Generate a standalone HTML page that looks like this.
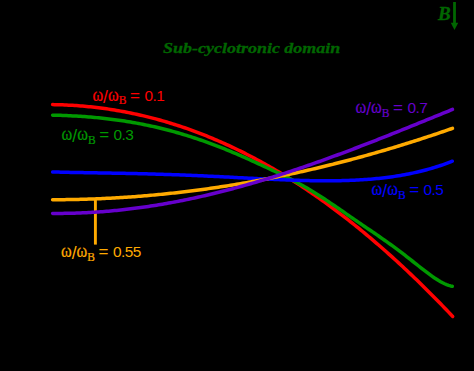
<!DOCTYPE html>
<html><head><meta charset="utf-8"><title>Sub-cyclotronic domain</title>
<style>
html,body{margin:0;padding:0;background:#000;}
body{width:474px;height:371px;position:relative;overflow:hidden;font-family:"Liberation Sans",sans-serif;}
svg{position:absolute;left:0;top:0;}
svg path{fill:none;stroke-width:3.5;stroke-linecap:round;stroke-linejoin:round;}
.lab{position:absolute;white-space:nowrap;font-size:15.4px;line-height:20px;height:20px;}
.lab span{display:inline-block;vertical-align:baseline;}
.lab .w,.lab .sub{-webkit-text-stroke:0.2px currentColor;}
.lab .w{font-family:"Liberation Serif",serif;font-size:16.3px;transform-origin:50% 15.5px;transform:scaleY(1.13);}
.lab .sl{font-size:17.5px;position:relative;top:2px;}
.lab .sub{font-family:"Liberation Serif",serif;font-size:11.5px;position:relative;top:3.8px;}
.lab .eq{font-size:17px;margin-left:3.6px;margin-right:4.5px;position:relative;top:0px;}
.lab .num{font-size:15.4px;letter-spacing:-0.55px;}
.title{-webkit-text-stroke:0.3px currentColor;position:absolute;left:163px;top:37.9px;color:#006600;font-family:"Liberation Serif",serif;font-weight:bold;font-style:italic;font-size:15.5px;line-height:20px;letter-spacing:0px;white-space:nowrap;transform-origin:0 0;transform:scaleX(1.16);}
.B{-webkit-text-stroke:0.3px currentColor;position:absolute;left:438px;top:3.9px;color:#006600;font-family:"Liberation Serif",serif;font-weight:bold;font-style:italic;font-size:19px;line-height:20px;}
</style></head><body>
<svg width="474" height="371" viewBox="0 0 474 371">
<path d="M95.4,199.5 L95.4,244.6" stroke="#ffaa00" style="stroke-width:2.9;stroke-linecap:butt"/>
<path d="M52.6,104.59 L54.6,104.63 L56.6,104.67 L58.6,104.72 L60.6,104.78 L62.6,104.86 L64.6,104.94 L66.6,105.03 L68.6,105.13 L70.6,105.23 L72.6,105.35 L74.6,105.48 L76.6,105.62 L78.6,105.76 L80.6,105.92 L82.6,106.09 L84.6,106.26 L86.6,106.45 L88.6,106.64 L90.6,106.85 L92.6,107.06 L94.6,107.29 L96.6,107.52 L98.6,107.76 L100.6,108.02 L102.6,108.28 L104.6,108.56 L106.6,108.84 L108.6,109.13 L110.6,109.43 L112.6,109.75 L114.6,110.07 L116.6,110.40 L118.6,110.74 L120.6,111.10 L122.6,111.46 L124.6,111.83 L126.6,112.22 L128.6,112.61 L130.6,113.01 L132.6,113.43 L134.6,113.85 L136.6,114.28 L138.6,114.73 L140.6,115.18 L142.6,115.64 L144.6,116.12 L146.6,116.60 L148.6,117.10 L150.6,117.60 L152.6,118.12 L154.6,118.64 L156.6,119.18 L158.6,119.72 L160.6,120.28 L162.6,120.85 L164.6,121.43 L166.6,122.01 L168.6,122.61 L170.6,123.22 L172.6,123.84 L174.6,124.47 L176.6,125.11 L178.6,125.76 L180.6,126.42 L182.6,127.09 L184.6,127.77 L186.6,128.47 L188.6,129.17 L190.6,129.88 L192.6,130.61 L194.6,131.34 L196.6,132.09 L198.6,132.84 L200.6,133.61 L202.6,134.39 L204.6,135.17 L206.6,135.97 L208.6,136.78 L210.6,137.60 L212.6,138.43 L214.6,139.27 L216.6,140.12 L218.6,140.99 L220.6,141.86 L222.6,142.74 L224.6,143.64 L226.6,144.54 L228.6,145.46 L230.6,146.39 L232.6,147.32 L234.6,148.27 L236.6,149.23 L238.6,150.20 L240.6,151.18 L242.6,152.17 L244.6,153.18 L246.6,154.19 L248.6,155.21 L250.6,156.25 L252.6,157.29 L254.6,158.35 L256.6,159.42 L258.6,160.49 L260.6,161.58 L262.6,162.68 L264.6,163.79 L266.6,164.92 L268.6,166.05 L270.6,167.19 L272.6,168.34 L274.6,169.51 L276.6,170.68 L278.6,171.87 L280.6,173.07 L282.6,174.28 L284.6,175.50 L286.6,176.72 L288.6,177.97 L290.6,179.22 L292.6,180.48 L294.6,181.75 L296.6,183.04 L298.6,184.33 L300.6,185.64 L302.6,186.96 L304.6,188.28 L306.6,189.62 L308.6,190.97 L310.6,192.33 L312.6,193.70 L314.6,195.08 L316.6,196.48 L318.6,197.88 L320.6,199.30 L322.6,200.72 L324.6,202.16 L326.6,203.60 L328.6,205.06 L330.6,206.53 L332.6,208.01 L334.6,209.50 L336.6,211.00 L338.6,212.52 L340.6,214.04 L342.6,215.57 L344.6,217.12 L346.6,218.67 L348.6,220.24 L350.6,221.82 L352.6,223.40 L354.6,225.00 L356.6,226.61 L358.6,228.23 L360.6,229.86 L362.6,231.50 L364.6,233.16 L366.6,234.82 L368.6,236.49 L370.6,238.18 L372.6,239.87 L374.6,241.58 L376.6,243.30 L378.6,245.02 L380.6,246.76 L382.6,248.51 L384.6,250.27 L386.6,252.04 L388.6,253.82 L390.6,255.61 L392.6,257.41 L394.6,259.23 L396.6,261.05 L398.6,262.88 L400.6,264.73 L402.6,266.58 L404.6,268.45 L406.6,270.32 L408.6,272.21 L410.6,274.11 L412.6,276.02 L414.6,277.93 L416.6,279.86 L418.6,281.80 L420.6,283.75 L422.6,285.71 L424.6,287.68 L426.6,289.66 L428.6,291.65 L430.6,293.66 L432.6,295.67 L434.6,297.69 L436.6,299.72 L438.6,301.77 L440.6,303.82 L442.6,305.88 L444.6,307.96 L446.6,310.04 L448.6,312.14 L450.6,314.24 L452.6,316.36 L452.7,316.46" stroke="#ff0000"/>
<path d="M52.6,115.14 L54.6,115.19 L56.6,115.24 L58.6,115.30 L60.6,115.37 L62.6,115.44 L64.6,115.52 L66.6,115.60 L68.6,115.68 L70.6,115.78 L72.6,115.88 L74.6,115.99 L76.6,116.10 L78.6,116.22 L80.6,116.34 L82.6,116.48 L84.6,116.62 L86.6,116.77 L88.6,116.92 L90.6,117.08 L92.6,117.25 L94.6,117.43 L96.6,117.62 L98.6,117.81 L100.6,118.01 L102.6,118.22 L104.6,118.44 L106.6,118.67 L108.6,118.90 L110.6,119.15 L112.6,119.40 L114.6,119.66 L116.6,119.93 L118.6,120.21 L120.6,120.49 L122.6,120.79 L124.6,121.10 L126.6,121.41 L128.6,121.74 L130.6,122.07 L132.6,122.41 L134.6,122.77 L136.6,123.13 L138.6,123.50 L140.6,123.88 L142.6,124.28 L144.6,124.68 L146.6,125.09 L148.6,125.51 L150.6,125.94 L152.6,126.38 L154.6,126.83 L156.6,127.29 L158.6,127.76 L160.6,128.25 L162.6,128.74 L164.6,129.24 L166.6,129.75 L168.6,130.27 L170.6,130.80 L172.6,131.35 L174.6,131.90 L176.6,132.46 L178.6,133.03 L180.6,133.62 L182.6,134.21 L184.6,134.81 L186.6,135.43 L188.6,136.05 L190.6,136.68 L192.6,137.33 L194.6,137.98 L196.6,138.64 L198.6,139.32 L200.6,140.00 L202.6,140.70 L204.6,141.40 L206.6,142.11 L208.6,142.84 L210.6,143.57 L212.6,144.31 L214.6,145.07 L216.6,145.83 L218.6,146.60 L220.6,147.38 L222.6,148.17 L224.6,148.97 L226.6,149.78 L228.6,150.60 L230.6,151.43 L232.6,152.26 L234.6,153.11 L236.6,153.96 L238.6,154.83 L240.6,155.70 L242.6,156.57 L244.6,157.46 L246.6,158.35 L248.6,159.25 L250.6,160.15 L252.6,161.06 L254.6,161.98 L256.6,162.89 L258.6,163.81 L260.6,164.74 L262.6,165.67 L264.6,166.60 L266.6,167.53 L268.6,168.47 L270.6,169.40 L272.6,170.35 L274.6,171.29 L276.6,172.24 L278.6,173.20 L280.6,174.16 L282.6,175.13 L284.6,176.11 L286.6,177.11 L288.6,178.11 L290.6,179.12 L292.6,180.16 L294.6,181.20 L296.6,182.26 L298.6,183.34 L300.6,184.44 L302.6,185.56 L304.6,186.70 L306.6,187.85 L308.6,189.02 L310.6,190.22 L312.6,191.43 L314.6,192.66 L316.6,193.91 L318.6,195.17 L320.6,196.46 L322.6,197.75 L324.6,199.07 L326.6,200.39 L328.6,201.73 L330.6,203.08 L332.6,204.44 L334.6,205.80 L336.6,207.17 L338.6,208.55 L340.6,209.92 L342.6,211.30 L344.6,212.68 L346.6,214.07 L348.6,215.45 L350.6,216.83 L352.6,218.21 L354.6,219.59 L356.6,220.96 L358.6,222.34 L360.6,223.71 L362.6,225.08 L364.6,226.45 L366.6,227.82 L368.6,229.18 L370.6,230.55 L372.6,231.92 L374.6,233.29 L376.6,234.67 L378.6,236.05 L380.6,237.44 L382.6,238.83 L384.6,240.23 L386.6,241.64 L388.6,243.07 L390.6,244.50 L392.6,245.95 L394.6,247.42 L396.6,248.90 L398.6,250.40 L400.6,251.92 L402.6,253.44 L404.6,254.99 L406.6,256.54 L408.6,258.10 L410.6,259.68 L412.6,261.25 L414.6,262.84 L416.6,264.42 L418.6,266.00 L420.6,267.57 L422.6,269.13 L424.6,270.68 L426.6,272.21 L428.6,273.70 L430.6,275.17 L432.6,276.59 L434.6,277.97 L436.6,279.28 L438.6,280.53 L440.6,281.69 L442.6,282.77 L444.6,283.74 L446.6,284.60 L448.6,285.33 L450.6,285.92 L452.3,286.29" stroke="#009900"/>
<path d="M52.6,171.94 L54.6,172.00 L56.6,172.06 L58.6,172.11 L60.6,172.16 L62.6,172.21 L64.6,172.26 L66.6,172.30 L68.6,172.35 L70.6,172.39 L72.6,172.43 L74.6,172.47 L76.6,172.51 L78.6,172.55 L80.6,172.58 L82.6,172.62 L84.6,172.66 L86.6,172.69 L88.6,172.73 L90.6,172.76 L92.6,172.79 L94.6,172.83 L96.6,172.86 L98.6,172.89 L100.6,172.93 L102.6,172.96 L104.6,173.00 L106.6,173.03 L108.6,173.06 L110.6,173.10 L112.6,173.13 L114.6,173.17 L116.6,173.21 L118.6,173.24 L120.6,173.28 L122.6,173.32 L124.6,173.36 L126.6,173.40 L128.6,173.44 L130.6,173.48 L132.6,173.53 L134.6,173.57 L136.6,173.62 L138.6,173.66 L140.6,173.71 L142.6,173.76 L144.6,173.81 L146.6,173.86 L148.6,173.91 L150.6,173.97 L152.6,174.02 L154.6,174.08 L156.6,174.14 L158.6,174.20 L160.6,174.26 L162.6,174.32 L164.6,174.39 L166.6,174.45 L168.6,174.52 L170.6,174.59 L172.6,174.66 L174.6,174.73 L176.6,174.80 L178.6,174.87 L180.6,174.95 L182.6,175.03 L184.6,175.10 L186.6,175.18 L188.6,175.26 L190.6,175.35 L192.6,175.43 L194.6,175.51 L196.6,175.60 L198.6,175.69 L200.6,175.78 L202.6,175.87 L204.6,175.96 L206.6,176.05 L208.6,176.14 L210.6,176.24 L212.6,176.33 L214.6,176.43 L216.6,176.52 L218.6,176.62 L220.6,176.72 L222.6,176.82 L224.6,176.92 L226.6,177.02 L228.6,177.12 L230.6,177.22 L232.6,177.32 L234.6,177.43 L236.6,177.53 L238.6,177.63 L240.6,177.74 L242.6,177.84 L244.6,177.94 L246.6,178.04 L248.6,178.15 L250.6,178.25 L252.6,178.35 L254.6,178.45 L256.6,178.55 L258.6,178.65 L260.6,178.75 L262.6,178.85 L264.6,178.95 L266.6,179.04 L268.6,179.14 L270.6,179.23 L272.6,179.32 L274.6,179.41 L276.6,179.50 L278.6,179.59 L280.6,179.68 L282.6,179.76 L284.6,179.84 L286.6,179.92 L288.6,180.00 L290.6,180.07 L292.6,180.14 L294.6,180.21 L296.6,180.28 L298.6,180.34 L300.6,180.40 L302.6,180.45 L304.6,180.51 L306.6,180.55 L308.6,180.60 L310.6,180.64 L312.6,180.68 L314.6,180.71 L316.6,180.74 L318.6,180.76 L320.6,180.78 L322.6,180.79 L324.6,180.80 L326.6,180.80 L328.6,180.80 L330.6,180.79 L332.6,180.78 L334.6,180.76 L336.6,180.73 L338.6,180.70 L340.6,180.66 L342.6,180.62 L344.6,180.56 L346.6,180.50 L348.6,180.44 L350.6,180.36 L352.6,180.28 L354.6,180.19 L356.6,180.09 L358.6,179.98 L360.6,179.87 L362.6,179.74 L364.6,179.61 L366.6,179.46 L368.6,179.31 L370.6,179.15 L372.6,178.98 L374.6,178.80 L376.6,178.60 L378.6,178.40 L380.6,178.19 L382.6,177.96 L384.6,177.72 L386.6,177.48 L388.6,177.22 L390.6,176.95 L392.6,176.66 L394.6,176.36 L396.6,176.06 L398.6,175.73 L400.6,175.40 L402.6,175.05 L404.6,174.68 L406.6,174.31 L408.6,173.92 L410.6,173.51 L412.6,173.09 L414.6,172.65 L416.6,172.20 L418.6,171.73 L420.6,171.25 L422.6,170.75 L424.6,170.23 L426.6,169.70 L428.6,169.15 L430.6,168.58 L432.6,168.00 L434.6,167.40 L436.6,166.77 L438.6,166.13 L440.6,165.47 L442.6,164.80 L444.6,164.10 L446.6,163.38 L448.6,162.64 L450.6,161.88 L452.3,161.22" stroke="#0000ff"/>
<path d="M52.6,199.68 L54.6,199.68 L56.6,199.68 L58.6,199.67 L60.6,199.66 L62.6,199.64 L64.6,199.63 L66.6,199.60 L68.6,199.58 L70.6,199.55 L72.6,199.51 L74.6,199.47 L76.6,199.43 L78.6,199.39 L80.6,199.34 L82.6,199.29 L84.6,199.23 L86.6,199.17 L88.6,199.11 L90.6,199.04 L92.6,198.97 L94.6,198.89 L96.6,198.82 L98.6,198.73 L100.6,198.65 L102.6,198.56 L104.6,198.47 L106.6,198.37 L108.6,198.27 L110.6,198.16 L112.6,198.06 L114.6,197.95 L116.6,197.83 L118.6,197.71 L120.6,197.59 L122.6,197.46 L124.6,197.33 L126.6,197.20 L128.6,197.06 L130.6,196.92 L132.6,196.78 L134.6,196.63 L136.6,196.48 L138.6,196.32 L140.6,196.16 L142.6,196.00 L144.6,195.84 L146.6,195.67 L148.6,195.49 L150.6,195.32 L152.6,195.13 L154.6,194.95 L156.6,194.76 L158.6,194.57 L160.6,194.38 L162.6,194.18 L164.6,193.98 L166.6,193.77 L168.6,193.56 L170.6,193.35 L172.6,193.13 L174.6,192.91 L176.6,192.69 L178.6,192.46 L180.6,192.23 L182.6,191.99 L184.6,191.75 L186.6,191.51 L188.6,191.27 L190.6,191.02 L192.6,190.77 L194.6,190.51 L196.6,190.25 L198.6,189.99 L200.6,189.72 L202.6,189.45 L204.6,189.17 L206.6,188.90 L208.6,188.62 L210.6,188.33 L212.6,188.04 L214.6,187.75 L216.6,187.46 L218.6,187.16 L220.6,186.85 L222.6,186.55 L224.6,186.24 L226.6,185.93 L228.6,185.61 L230.6,185.29 L232.6,184.97 L234.6,184.64 L236.6,184.31 L238.6,183.97 L240.6,183.64 L242.6,183.29 L244.6,182.95 L246.6,182.60 L248.6,182.25 L250.6,181.89 L252.6,181.53 L254.6,181.17 L256.6,180.81 L258.6,180.44 L260.6,180.06 L262.6,179.69 L264.6,179.31 L266.6,178.92 L268.6,178.54 L270.6,178.15 L272.6,177.75 L274.6,177.36 L276.6,176.95 L278.6,176.55 L280.6,176.14 L282.6,175.73 L284.6,175.32 L286.6,174.90 L288.6,174.48 L290.6,174.05 L292.6,173.62 L294.6,173.19 L296.6,172.75 L298.6,172.32 L300.6,171.87 L302.6,171.43 L304.6,170.98 L306.6,170.53 L308.6,170.07 L310.6,169.61 L312.6,169.15 L314.6,168.68 L316.6,168.21 L318.6,167.74 L320.6,167.26 L322.6,166.78 L324.6,166.29 L326.6,165.81 L328.6,165.32 L330.6,164.82 L332.6,164.33 L334.6,163.82 L336.6,163.32 L338.6,162.81 L340.6,162.30 L342.6,161.79 L344.6,161.27 L346.6,160.75 L348.6,160.22 L350.6,159.69 L352.6,159.16 L354.6,158.63 L356.6,158.09 L358.6,157.55 L360.6,157.00 L362.6,156.45 L364.6,155.90 L366.6,155.35 L368.6,154.79 L370.6,154.23 L372.6,153.66 L374.6,153.09 L376.6,152.52 L378.6,151.94 L380.6,151.36 L382.6,150.78 L384.6,150.20 L386.6,149.61 L388.6,149.01 L390.6,148.42 L392.6,147.82 L394.6,147.22 L396.6,146.61 L398.6,146.00 L400.6,145.39 L402.6,144.77 L404.6,144.15 L406.6,143.53 L408.6,142.91 L410.6,142.28 L412.6,141.64 L414.6,141.01 L416.6,140.37 L418.6,139.73 L420.6,139.08 L422.6,138.43 L424.6,137.78 L426.6,137.12 L428.6,136.46 L430.6,135.80 L432.6,135.14 L434.6,134.47 L436.6,133.79 L438.6,133.12 L440.6,132.44 L442.6,131.76 L444.6,131.07 L446.6,130.38 L448.6,129.69 L450.6,128.99 L452.5,128.33" stroke="#ffaa00"/>
<path d="M52.6,213.38 L54.6,213.40 L56.6,213.40 L58.6,213.40 L60.6,213.39 L62.6,213.38 L64.6,213.36 L66.6,213.33 L68.6,213.30 L70.6,213.25 L72.6,213.21 L74.6,213.15 L76.6,213.09 L78.6,213.02 L80.6,212.94 L82.6,212.86 L84.6,212.77 L86.6,212.67 L88.6,212.57 L90.6,212.46 L92.6,212.34 L94.6,212.21 L96.6,212.08 L98.6,211.95 L100.6,211.80 L102.6,211.65 L104.6,211.49 L106.6,211.33 L108.6,211.16 L110.6,210.98 L112.6,210.80 L114.6,210.61 L116.6,210.41 L118.6,210.21 L120.6,210.00 L122.6,209.78 L124.6,209.56 L126.6,209.33 L128.6,209.10 L130.6,208.86 L132.6,208.61 L134.6,208.35 L136.6,208.09 L138.6,207.83 L140.6,207.55 L142.6,207.28 L144.6,206.99 L146.6,206.70 L148.6,206.40 L150.6,206.10 L152.6,205.79 L154.6,205.47 L156.6,205.15 L158.6,204.82 L160.6,204.49 L162.6,204.15 L164.6,203.80 L166.6,203.45 L168.6,203.09 L170.6,202.73 L172.6,202.36 L174.6,201.98 L176.6,201.60 L178.6,201.22 L180.6,200.82 L182.6,200.43 L184.6,200.02 L186.6,199.61 L188.6,199.20 L190.6,198.78 L192.6,198.35 L194.6,197.92 L196.6,197.48 L198.6,197.04 L200.6,196.59 L202.6,196.14 L204.6,195.68 L206.6,195.21 L208.6,194.74 L210.6,194.27 L212.6,193.79 L214.6,193.30 L216.6,192.81 L218.6,192.32 L220.6,191.82 L222.6,191.31 L224.6,190.80 L226.6,190.29 L228.6,189.77 L230.6,189.24 L232.6,188.71 L234.6,188.17 L236.6,187.63 L238.6,187.09 L240.6,186.54 L242.6,185.98 L244.6,185.42 L246.6,184.86 L248.6,184.29 L250.6,183.72 L252.6,183.14 L254.6,182.56 L256.6,181.97 L258.6,181.38 L260.6,180.78 L262.6,180.18 L264.6,179.58 L266.6,178.97 L268.6,178.36 L270.6,177.74 L272.6,177.12 L274.6,176.49 L276.6,175.86 L278.6,175.23 L280.6,174.59 L282.6,173.95 L284.6,173.30 L286.6,172.65 L288.6,172.00 L290.6,171.34 L292.6,170.68 L294.6,170.01 L296.6,169.34 L298.6,168.67 L300.6,168.00 L302.6,167.32 L304.6,166.63 L306.6,165.95 L308.6,165.25 L310.6,164.56 L312.6,163.86 L314.6,163.16 L316.6,162.46 L318.6,161.75 L320.6,161.04 L322.6,160.33 L324.6,159.61 L326.6,158.89 L328.6,158.17 L330.6,157.44 L332.6,156.71 L334.6,155.98 L336.6,155.25 L338.6,154.51 L340.6,153.77 L342.6,153.03 L344.6,152.28 L346.6,151.53 L348.6,150.78 L350.6,150.03 L352.6,149.27 L354.6,148.51 L356.6,147.75 L358.6,146.99 L360.6,146.22 L362.6,145.46 L364.6,144.69 L366.6,143.91 L368.6,143.14 L370.6,142.36 L372.6,141.58 L374.6,140.80 L376.6,140.02 L378.6,139.24 L380.6,138.45 L382.6,137.66 L384.6,136.87 L386.6,136.08 L388.6,135.29 L390.6,134.50 L392.6,133.70 L394.6,132.90 L396.6,132.10 L398.6,131.30 L400.6,130.50 L402.6,129.70 L404.6,128.89 L406.6,128.09 L408.6,127.28 L410.6,126.48 L412.6,125.67 L414.6,124.86 L416.6,124.05 L418.6,123.24 L420.6,122.42 L422.6,121.61 L424.6,120.80 L426.6,119.98 L428.6,119.17 L430.6,118.35 L432.6,117.54 L434.6,116.72 L436.6,115.91 L438.6,115.09 L440.6,114.27 L442.6,113.46 L444.6,112.64 L446.6,111.82 L448.6,111.01 L450.6,110.19 L452.5,109.41" stroke="#6600cc"/>

<path d="M454.5,2 L454.5,24" stroke="#006600" style="stroke-width:2.8;stroke-linecap:butt"/>
<path d="M450.8,22.8 L458.2,22.8 L454.5,30 Z" style="fill:#006600;stroke:none"/>
</svg>
<div class="title">Sub-cyclotronic domain</div>
<div class="B">B</div>
<div class="lab" style="left:92.4px;top:84.5px;color:#ff0000"><span class="w">ω</span><span class="sl">/</span><span class="w">ω</span><span class="sub">B</span><span class="eq">=</span><span class="num">0.1</span></div>
<div class="lab" style="left:61.6px;top:124.2px;color:#009900"><span class="w">ω</span><span class="sl">/</span><span class="w">ω</span><span class="sub">B</span><span class="eq">=</span><span class="num">0.3</span></div>
<div class="lab" style="left:355.5px;top:97.2px;color:#6600cc"><span class="w">ω</span><span class="sl">/</span><span class="w">ω</span><span class="sub">B</span><span class="eq">=</span><span class="num">0.7</span></div>
<div class="lab" style="left:371.6px;top:179.1px;color:#0000ff"><span class="w">ω</span><span class="sl">/</span><span class="w">ω</span><span class="sub">B</span><span class="eq">=</span><span class="num">0.5</span></div>
<div class="lab" style="left:61.0px;top:241.0px;color:#ffaa00"><span class="w">ω</span><span class="sl">/</span><span class="w">ω</span><span class="sub">B</span><span class="eq">=</span><span class="num">0.55</span></div>

</body></html>
